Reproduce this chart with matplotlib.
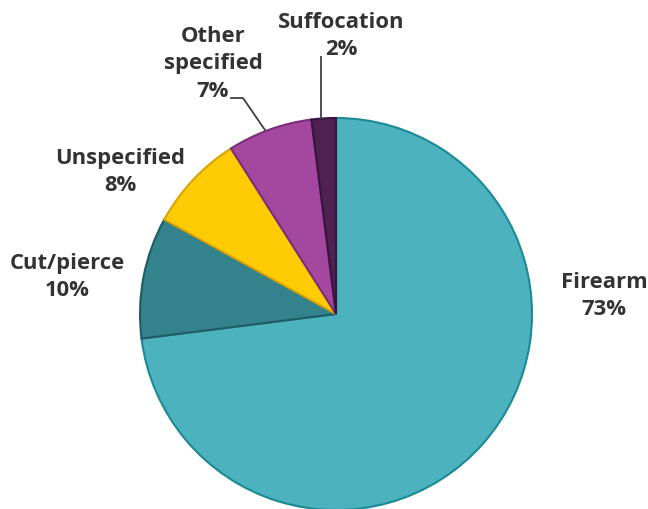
import matplotlib.pyplot as plt
from matplotlib.patches import Wedge

labels = ['Firearm', 'Cut/pierce', 'Unspecified', 'Other\nspecified', 'Suffocation']
shares = [73, 10, 8, 7, 2]
fills = ['#4BB2BE', '#33838C', '#FFCB05', '#A3479F', '#4E2150']
edges = ['#1B8A94', '#1F5C63', '#D9A400', '#7A2F78', '#3A1440']

plt.rcParams['font.family'] = ['Open Sans', 'DejaVu Sans']

fig = plt.figure(figsize=(6.48, 5.10), dpi=100)
ax = fig.add_axes([0, 0, 1, 1])
ax.set_xlim(0, 648)
ax.set_ylim(0, 510)
ax.set_aspect('equal')
ax.axis('off')

cx, cy, r = 336, 195, 196
start = 90
for val, fc, ec in zip(shares, fills, edges):
    sweep = val / sum(shares) * 360
    ax.add_patch(Wedge((cx, cy), r, start - sweep, start, facecolor=fc,
                       edgecolor=ec, linewidth=1.5))
    start -= sweep

# label positions (x, y of text centre)
label_pos = [(604, 214), (67, 233), (120, 338), (213, 446), (341, 474)]
for lab, val, (x, y) in zip(labels, shares, label_pos):
    ax.text(x, y, f'{lab}\n{val}%', ha='center', va='center', fontsize=15.8,
            fontweight='bold', color='#333333', linespacing=1.4)

# leader lines for the small slices
ax.plot([321, 321], [452, 391], color='#404040', lw=1.3)
ax.plot([231, 243, 265], [411, 411, 379], color='#404040', lw=1.3)

fig.savefig('out.png', dpi=100)
